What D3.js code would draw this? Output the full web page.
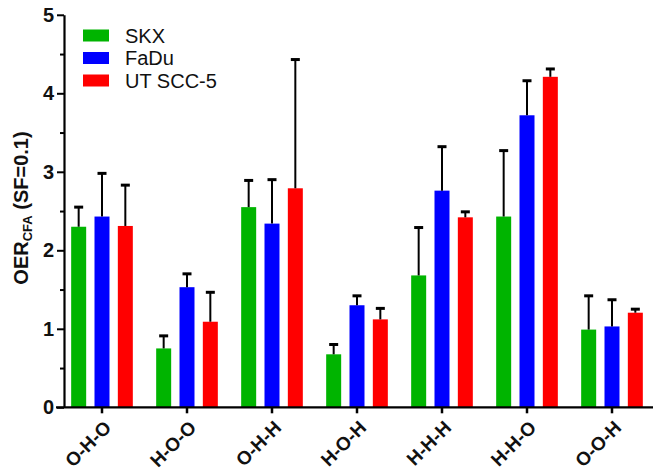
<!DOCTYPE html>
<html>
<head>
<meta charset="utf-8">
<script src="https://cdn.jsdelivr.net/npm/d3@7"></script>
<style>
  body { margin: 0; background: #fff; }
  svg { display: block; font-family: Arial, "Liberation Sans", sans-serif; }
</style>
</head>
<body>
<div id="chart"></div>
<script>
const categories = ["O-H-O", "H-O-O", "O-H-H", "H-O-H", "H-H-H", "H-H-O", "O-O-H"];
const series = ["SKX", "FaDu", "UT SCC-5"];
const colors = ["#00b400", "#0000ff", "#ff0000"];

// mean OER values per series, in category order
const skx = [2.30, 0.75, 2.55, 0.675, 1.68, 2.43, 0.99];
const fadu = [2.43, 1.53, 2.34, 1.30, 2.76, 3.72, 1.03];
const utscc5 = [2.31, 1.09, 2.79, 1.12, 2.42, 4.21, 1.205];

// upper end of the error bars
const skxErr = [2.55, 0.91, 2.89, 0.80, 2.29, 3.27, 1.42];
const faduErr = [2.98, 1.70, 2.90, 1.42, 3.32, 4.16, 1.37];
const utscc5Err = [2.83, 1.465, 4.43, 1.26, 2.49, 4.31, 1.25];

const yTicks = [0, 1, 2, 3, 4, 5];
const yMinorTicks = [0.5, 1.5, 2.5, 3.5, 4.5];

const width = 653, height = 471;
const axisX = 64, baseY = 407.3, topY = 14.8;

const means = [skx, fadu, utscc5];
const errs = [skxErr, faduErr, utscc5Err];

const data = [];
categories.forEach((c, i) => {
  series.forEach((s, j) => {
    data.push({ cat: c, series: s, value: means[j][i], err: errs[j][i], color: colors[j] });
  });
});

const svg = d3.select("#chart").append("svg")
  .attr("width", width)
  .attr("height", height);

const x0 = d3.scaleBand()
  .domain(categories)
  .range([59.5, 654.5]);

const x1 = d3.scaleBand()
  .domain(series)
  .range([-30.83, 30.83])
  .paddingInner(0.357)
  .paddingOuter(0);

const y = d3.scaleLinear()
  .domain([0, 5])
  .range([baseY, topY]);

const barX = (d) => x0(d.cat) + x0.bandwidth() / 2 + x1(d.series);
const catMid = (c) => x0(c) + x0.bandwidth() / 2;

// bars
svg.append("g")
  .selectAll("rect")
  .data(data)
  .join("rect")
  .attr("x", barX)
  .attr("y", (d) => y(d.value))
  .attr("width", x1.bandwidth())
  .attr("height", (d) => baseY - y(d.value))
  .attr("fill", (d) => d.color);

// error bars (upper only)
const eb = svg.append("g").attr("stroke", "#000");
eb.selectAll("line.stem")
  .data(data)
  .join("line")
  .attr("class", "stem")
  .attr("x1", (d) => barX(d) + x1.bandwidth() / 2)
  .attr("x2", (d) => barX(d) + x1.bandwidth() / 2)
  .attr("y1", (d) => y(d.value))
  .attr("y2", (d) => y(d.err))
  .attr("stroke-width", 2);
eb.selectAll("line.cap")
  .data(data)
  .join("line")
  .attr("class", "cap")
  .attr("x1", (d) => barX(d) + x1.bandwidth() / 2 - 4.5)
  .attr("x2", (d) => barX(d) + x1.bandwidth() / 2 + 4.5)
  .attr("y1", (d) => y(d.err))
  .attr("y2", (d) => y(d.err))
  .attr("stroke-width", 3);

// y axis
const yAxis = svg.append("g")
  .attr("transform", `translate(${axisX},0)`)
  .call(d3.axisLeft(y).tickValues(yTicks).tickFormat(d3.format("d")).tickSize(7).tickPadding(3).tickSizeOuter(0));
yAxis.select(".domain").attr("stroke-width", 2.2);
yAxis.selectAll(".tick line").attr("stroke-width", 2);
yAxis.selectAll(".tick text")
  .attr("font-size", 20)
  .attr("font-weight", "bold")
  .attr("fill", "#111");

svg.append("g")
  .attr("transform", `translate(${axisX},0)`)
  .call(d3.axisLeft(y).tickValues(yMinorTicks).tickFormat("").tickSize(4).tickSizeOuter(0))
  .call((g) => g.select(".domain").remove())
  .selectAll(".tick line").attr("stroke-width", 2);

// x axis
svg.append("line")
  .attr("x1", axisX - 8).attr("x2", width)
  .attr("y1", baseY).attr("y2", baseY)
  .attr("stroke", "#000").attr("stroke-width", 2.2);

const xAxis = svg.append("g")
  .attr("transform", `translate(0,${baseY})`)
  .call(d3.axisBottom(x0).tickSize(6).tickSizeOuter(0).tickFormat(""));
xAxis.select(".domain").remove();
xAxis.selectAll(".tick line").attr("stroke-width", 2.5);
xAxis.selectAll(".tick text").remove();

// rotated category labels, placed straight on the svg
svg.append("g")
  .selectAll("text")
  .data(categories)
  .join("text")
  .attr("transform", (d) => `translate(${catMid(d) + 10.5},${baseY + 21.5}) rotate(-45)`)
  .attr("text-anchor", "end")
  .attr("font-size", 19)
  .attr("font-weight", "bold")
  .attr("fill", "#111")
  .text((d) => d);

// y axis title
const title = svg.append("text")
  .attr("transform", "translate(28,208) rotate(-90)")
  .attr("text-anchor", "middle")
  .attr("font-size", 20)
  .attr("font-weight", "bold")
  .attr("fill", "#111");
title.append("tspan").text("OER");
title.append("tspan").attr("font-size", 13).attr("dy", 4).text("CFA");
title.append("tspan").attr("dy", -4).text(" (SF=0.1)");

// legend
const legend = svg.append("g")
  .selectAll("g")
  .data(series)
  .join("g")
  .attr("transform", (d, i) => `translate(83,${29.5 + i * 22.5})`);
legend.append("rect")
  .attr("width", 26)
  .attr("height", 12)
  .attr("fill", (d, i) => colors[i]);
legend.append("text")
  .attr("x", 42)
  .attr("y", 6)
  .attr("dy", "0.36em")
  .attr("font-size", 20)
  .attr("fill", "#111")
  .text((d) => d);
</script>
</body>
</html>
